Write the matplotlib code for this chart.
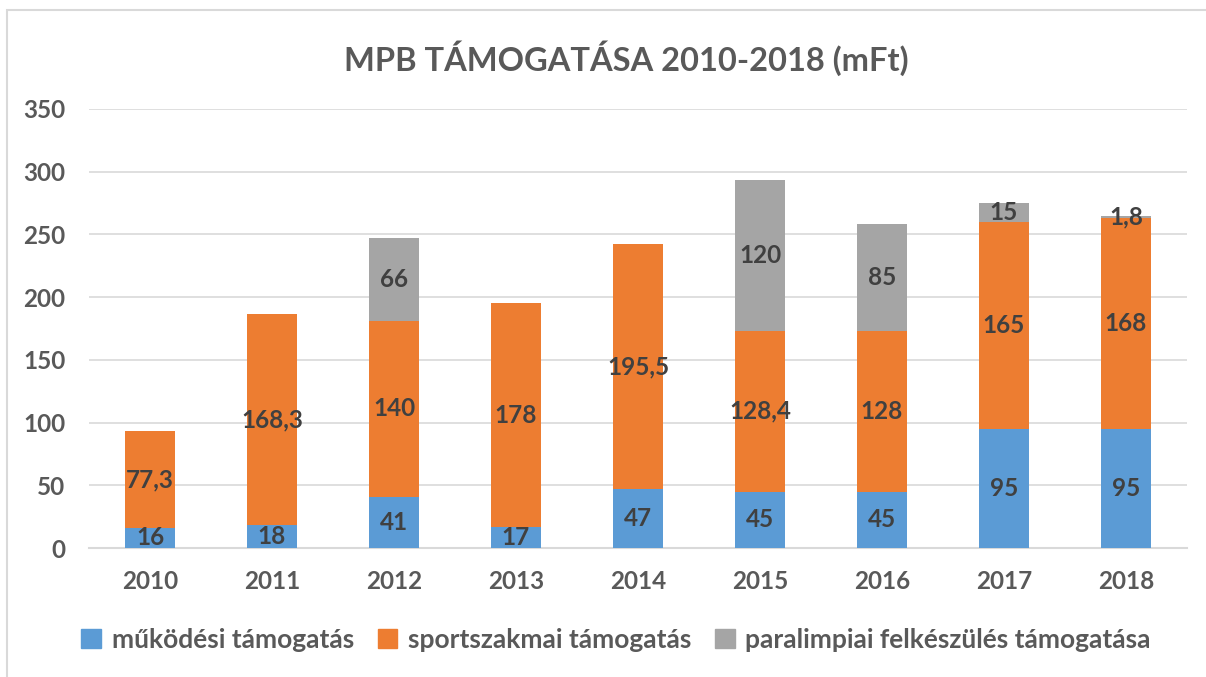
import matplotlib
matplotlib.use("Agg")
import matplotlib.pyplot as plt
from matplotlib.patches import Rectangle, Patch

years = ["2010", "2011", "2012", "2013", "2014", "2015", "2016", "2017", "2018"]
mukodesi = [16, 18, 41, 17, 47, 45, 45, 95, 95]
sportszakmai = [77.3, 168.3, 140, 178, 195.5, 128.4, 128, 165, 168]
paralimpiai = [0, 0, 66, 0, 0, 120, 85, 15, 1.8]
series_names = ["működési támogatás", "sportszakmai támogatás", "paralimpiai felkészülés támogatása"]
colors = ["#5B9BD5", "#ED7D31", "#A5A5A5"]
title = "MPB TÁMOGATÁSA 2010-2018 (mFt)"

plt.rcParams['font.family'] = ['Lato', 'DejaVu Sans']
txt = "#595959"
lab = "#404040"

fig = plt.figure(figsize=(12.06, 6.77), dpi=100)
W, H = 1206, 677
ax = fig.add_axes([89 / W, 1 - 548 / H, (1187 - 89) / W, (548 - 109) / H])

x = list(range(len(years)))
bw = 0.41
bottoms = [0] * len(years)
for vals, c in zip([mukodesi, sportszakmai, paralimpiai], colors):
    ax.bar(x, vals, bw, bottom=bottoms, color=c, zorder=3)
    for i, v in enumerate(vals):
        if v > 0:
            s = ("%g" % v).replace(".", ",")
            ax.text(i, bottoms[i] + v / 2, s, ha="center", va="center",
                    fontsize=17.5, fontweight="bold", color=lab, zorder=4)
    bottoms = [b + v for b, v in zip(bottoms, vals)]

ax.set_ylim(0, 350)
ax.set_xlim(-0.5, len(years) - 0.5)
ax.set_yticks(range(0, 351, 50))
ax.set_xticks(x)
ax.set_xticklabels(years)
ax.grid(axis="y", color="#D9D9D9", linewidth=1.2, zorder=0)
for sp in ["top", "right", "left"]:
    ax.spines[sp].set_visible(False)
ax.spines["bottom"].set_color("#D9D9D9")
ax.spines["bottom"].set_linewidth(1.5)
ax.tick_params(axis="both", length=0, labelsize=17.5, labelcolor=txt)
for t in ax.get_xticklabels() + ax.get_yticklabels():
    t.set_fontweight("bold")
ax.tick_params(axis="x", pad=16)
ax.tick_params(axis="y", pad=17)

fig.text(626 / W, 1 - 58 / H, title, ha="center", va="center",
         fontsize=23.5, fontweight="bold", color=txt)

handles = [Patch(color=c) for c in colors]
leg = fig.legend(handles, series_names, loc="center", bbox_to_anchor=(616 / W, 1 - 640 / H),
                 ncol=3, frameon=False, fontsize=19, handlelength=0.75, handleheight=0.75,
                 handletextpad=0.4, columnspacing=0.9)
for t in leg.get_texts():
    t.set_fontweight("bold")
    t.set_color(txt)

fig.patches.append(Rectangle((7 / W, -0.1), 1.2, 1 - 10 / H + 0.1, transform=fig.transFigure,
                             fill=False, edgecolor="#D9D9D9", linewidth=1.5))

fig.savefig("out.png", dpi=100)
